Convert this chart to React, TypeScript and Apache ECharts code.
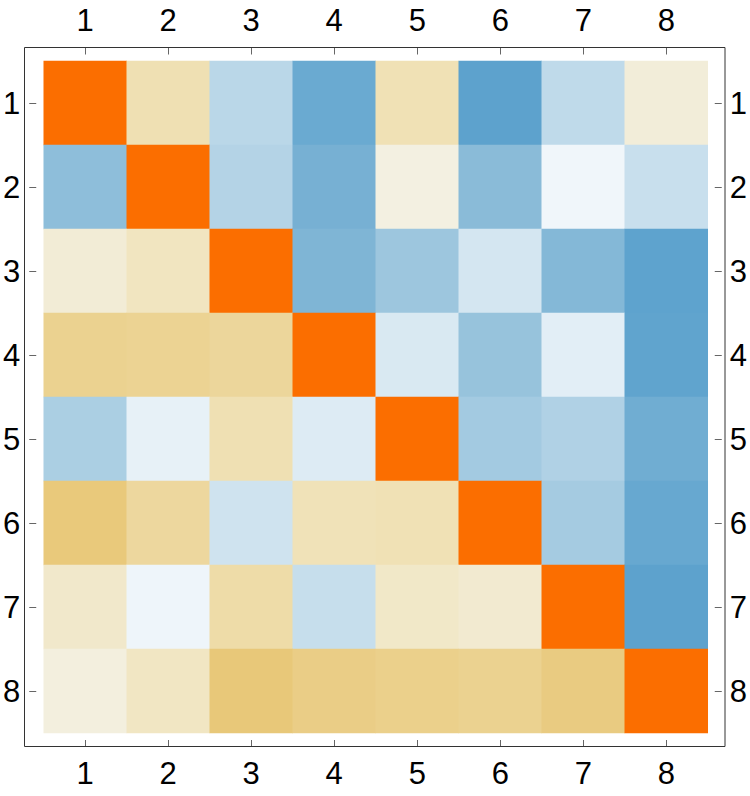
import React, { useEffect, useRef } from "react";
import * as echarts from "echarts";

const colLabels = ["1", "2", "3", "4", "5", "6", "7", "8"];
const rowLabels = ["1", "2", "3", "4", "5", "6", "7", "8"];

const row1 = [1, 0.27, -0.25, -0.66, 0.26, -0.74, -0.23, 0.13];
const row2 = [-0.46, 1, -0.28, -0.59, 0.1, -0.48, -0.02, -0.19];
const row3 = [0.14, 0.22, 1, -0.54, -0.39, -0.14, -0.51, -0.73];
const row4 = [0.4, 0.39, 0.36, 1, -0.12, -0.42, -0.08, -0.72];
const row5 = [-0.32, -0.06, 0.27, -0.1, 1, -0.36, -0.3, -0.63];
const row6 = [0.48, 0.35, -0.16, 0.25, 0.26, 1, -0.35, -0.68];
const row7 = [0.18, -0.03, 0.31, -0.2, 0.19, 0.16, 1, -0.74];
const row8 = [0.11, 0.21, 0.49, 0.44, 0.42, 0.4, 0.46, 1];

const matrix = [row1, row2, row3, row4, row5, row6, row7, row8];

const scaleColors = [
  "#3E8DC3",
  "#5BA1CD",
  "#86B9D7",
  "#BAD7E8",
  "#F5F9FC",
  "#F0E2B8",
  "#E8C776",
  "#F39A3A",
  "#FB6E00",
];

export default function App() {
  const ref = useRef<HTMLDivElement>(null);
  useEffect(() => {
    document.body.style.margin = "0";
    if (!ref.current) return;
    const chart = echarts.init(ref.current, undefined, { renderer: "svg" });
    const data: number[][] = [];
    matrix.forEach((row, r) => {
      row.forEach((v, c) => {
        data.push([c, r, v]);
      });
    });
    const font = "Liberation Sans, Arial, Helvetica, sans-serif";
    const labelStyle = { color: "#000", fontSize: 31, fontFamily: font };
    const tick = { show: true, inside: true, length: 7, alignWithLabel: true, lineStyle: { color: "#666", width: 1 } };
    chart.setOption({
      animation: false,
      backgroundColor: "#fff",
      grid: { left: 39, top: 61, width: 672, height: 672, containLabel: false },
      visualMap: {
        show: false,
        type: "continuous",
        min: -1,
        max: 1,
        dimension: 2,
        inRange: { color: scaleColors },
      },
      xAxis: [
        {
          type: "category",
          data: colLabels,
          position: "bottom",
          offset: 14,
          axisLine: { show: false },
          axisTick: tick,
          axisLabel: { ...labelStyle, margin: 11 },
          splitLine: { show: false },
        },
        {
          type: "category",
          data: colLabels,
          position: "top",
          offset: 13.5,
          axisLine: { show: false },
          axisTick: tick,
          axisLabel: { ...labelStyle, margin: 12 },
          splitLine: { show: false },
        },
      ],
      yAxis: [
        {
          type: "category",
          data: rowLabels,
          inverse: true,
          position: "left",
          offset: 14.5,
          axisLine: { show: false },
          axisTick: tick,
          axisLabel: { ...labelStyle, margin: 9 },
          splitLine: { show: false },
        },
        {
          type: "category",
          data: rowLabels,
          inverse: true,
          position: "right",
          offset: 14,
          axisLine: { show: false },
          axisTick: tick,
          axisLabel: { ...labelStyle, margin: 8 },
          splitLine: { show: false },
        },
      ],
      series: [
        {
          type: "heatmap",
          xAxisIndex: 0,
          yAxisIndex: 0,
          data,
          itemStyle: { borderWidth: 0 },
          emphasis: { disabled: true },
        },
      ],
      graphic: [
        {
          type: "rect",
          shape: { x: 24.5, y: 47.5, width: 700.5, height: 699 },
          style: { fill: "none", stroke: "#333", lineWidth: 1 },
          silent: true,
          z: 100,
        },
      ],
    });
    return () => chart.dispose();
  }, []);
  return (
    <div
      ref={ref}
      style={{ position: "absolute", left: 0, top: 0, width: 750, height: 796 }}
    />
  );
}
